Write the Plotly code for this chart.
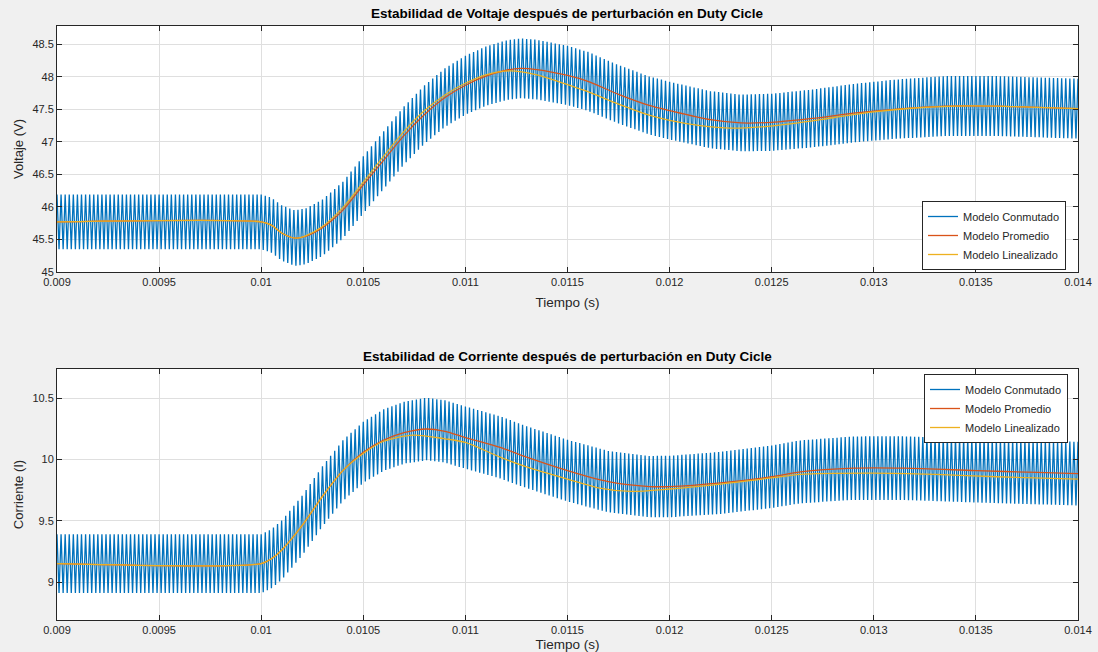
import numpy as np
import plotly.graph_objects as go

# ---------------- data ----------------
# time knots in ms
v_avg_t = [9.0, 10.0, 10.05, 10.1, 10.166, 10.22, 10.3, 10.4, 10.5, 10.6, 10.7, 10.8, 10.9, 11.0,
           11.1, 11.2, 11.27, 11.35, 11.5, 11.6, 11.75, 11.9, 12.0, 12.2, 12.35, 12.5, 12.7, 12.9,
           13.1, 13.35, 13.6, 13.8, 14.0]
v_avg = [45.77, 45.77, 45.72, 45.6, 45.52, 45.55, 45.68, 45.95, 46.34, 46.72, 47.1, 47.42, 47.68, 47.87,
         48.01, 48.1, 48.13, 48.11, 48.02, 47.93, 47.73, 47.56, 47.48, 47.34, 47.29, 47.3, 47.36, 47.44,
         47.5, 47.55, 47.55, 47.53, 47.51]

v_lin_t = [9.0, 10.0, 10.05, 10.1, 10.166, 10.22, 10.3, 10.4, 10.5, 10.6, 10.7, 10.8, 10.9, 11.0,
           11.1, 11.22, 11.35, 11.5, 11.6, 11.75, 11.9, 12.0, 12.15, 12.3, 12.45, 12.6, 12.8, 13.0,
           13.2, 13.4, 13.6, 13.8, 14.0]
v_lin = [45.77, 45.77, 45.72, 45.6, 45.52, 45.56, 45.7, 45.99, 46.38, 46.78, 47.16, 47.48, 47.72, 47.9,
         48.03, 48.09, 48.03, 47.88, 47.77, 47.58, 47.41, 47.33, 47.25, 47.21, 47.23, 47.28, 47.37, 47.46,
         47.52, 47.55, 47.55, 47.53, 47.51]

# switched-model ripple (half peak-to-peak) for voltage
v_rip_t = [9.0, 10.0, 10.5, 11.27, 12.35, 13.3, 14.0]
v_rip = [0.42, 0.42, 0.44, 0.46, 0.435, 0.46, 0.46]

i_avg_t = [9.0, 10.0, 10.05, 10.1, 10.2, 10.3, 10.4, 10.5, 10.6, 10.7, 10.81, 10.9, 11.0, 11.17,
           11.3, 11.5, 11.7, 11.9, 12.0, 12.25, 12.5, 12.64, 12.9, 13.15, 13.5, 13.8, 14.0]
i_avg = [9.15, 9.15, 9.19, 9.26, 9.46, 9.7, 9.91, 10.06, 10.16, 10.22, 10.25, 10.23, 10.18, 10.1,
         10.02, 9.91, 9.82, 9.78, 9.78, 9.81, 9.86, 9.9, 9.93, 9.93, 9.91, 9.895, 9.885]

i_lin_t = [9.0, 10.0, 10.05, 10.1, 10.2, 10.3, 10.4, 10.5, 10.6, 10.745, 10.9, 11.0, 11.17, 11.3,
           11.5, 11.65, 11.81, 12.0, 12.25, 12.5, 12.64, 12.99, 13.3, 13.6, 14.0]
i_lin = [9.15, 9.15, 9.19, 9.26, 9.46, 9.7, 9.91, 10.05, 10.15, 10.2, 10.17, 10.14, 10.02, 9.94,
         9.84, 9.77, 9.74, 9.76, 9.8, 9.85, 9.88, 9.89, 9.88, 9.86, 9.84]

i_rip_t = [9.0, 10.0, 10.8, 11.9, 13.0, 14.0]
i_rip = [0.24, 0.24, 0.255, 0.25, 0.26, 0.26]

f_sw_khz = 50.0  # switching frequency read from the ripple spacing

x_tickvals = [0.009, 0.0095, 0.01, 0.0105, 0.011, 0.0115, 0.012, 0.0125, 0.013, 0.0135, 0.014]
x_ticktext = ["0.009", "0.0095", "0.01", "0.0105", "0.011", "0.0115", "0.012", "0.0125", "0.013", "0.0135", "0.014"]
v_tickvals = [45, 45.5, 46, 46.5, 47, 47.5, 48, 48.5]
v_ticktext = ["45", "45.5", "46", "46.5", "47", "47.5", "48", "48.5"]
i_tickvals = [9, 9.5, 10, 10.5]
i_ticktext = ["9", "9.5", "10", "10.5"]

title_v = "Estabilidad de Voltaje después de perturbación en Duty Cicle"
title_i = "Estabilidad de Corriente después de perturbación en Duty Cicle"
names = ["Modelo Conmutado", "Modelo Promedio", "Modelo Linealizado"]
colors = ["#0072BD", "#D95319", "#EDB120"]


# ---------------- switched waveform (triangle ripple around the average) ----------------
def switched(avg_t, avg, rip_t, rip):
    half = 0.5 / f_sw_khz  # ms
    n = int(round((14.0 - 9.0) / half))
    t = 9.0 + np.arange(n + 1) * half
    c = np.interp(t, avg_t, avg)
    a = np.interp(t, rip_t, rip)
    s = np.where(np.arange(n + 1) % 2 == 0, 1.0, -1.0)
    return t / 1000.0, c + s * a


sw_v_t, sw_v = switched(v_avg_t, v_avg, v_rip_t, v_rip)
sw_i_t, sw_i = switched(i_avg_t, i_avg, i_rip_t, i_rip)

fig = go.Figure()

def add_set(xa, ya, leg, sw_t, sw_y, at, a, lt, l):
    fig.add_trace(go.Scatter(x=sw_t, y=sw_y, mode="lines", name=names[0],
                             line=dict(color=colors[0], width=1.3), xaxis=xa, yaxis=ya, legend=leg))
    fig.add_trace(go.Scatter(x=np.array(at) / 1000.0, y=a, mode="lines", name=names[1],
                             line=dict(color=colors[1], width=1.3, shape="spline", smoothing=0.8),
                             xaxis=xa, yaxis=ya, legend=leg))
    fig.add_trace(go.Scatter(x=np.array(lt) / 1000.0, y=l, mode="lines", name=names[2],
                             line=dict(color=colors[2], width=1.3, shape="spline", smoothing=0.8),
                             xaxis=xa, yaxis=ya, legend=leg))

add_set("x", "y", "legend", sw_v_t, sw_v, v_avg_t, v_avg, v_lin_t, v_lin)
add_set("x2", "y2", "legend2", sw_i_t, sw_i, i_avg_t, i_avg, i_lin_t, i_lin)

W, H = 1098, 652
font = "Liberation Sans, Arial, Helvetica, sans-serif"
tick_col = "#262626"
grid_col = "#dfdfdf"

def xaxis_cfg(dom_y_anchor, standoff):
    return dict(domain=[57 / W, 1078 / W], range=[0.009, 0.014], tickvals=x_tickvals, ticktext=x_ticktext,
                ticks="inside", ticklen=5, tickcolor=tick_col, showline=True, linecolor=tick_col, linewidth=1,
                mirror="ticks", showgrid=True, gridcolor=grid_col, gridwidth=1, zeroline=False, automargin=False,
                tickfont=dict(family=font, size=11, color=tick_col), anchor=dom_y_anchor,
                title=dict(text="Tiempo (s)", font=dict(family=font, size=13.5, color=tick_col), standoff=standoff))

def yaxis_cfg(dom, rng, tv, tt, title, anchor):
    return dict(domain=dom, range=rng, tickvals=tv, ticktext=tt,
                ticks="inside", ticklen=5, tickcolor=tick_col, showline=True, linecolor=tick_col, linewidth=1,
                mirror="ticks", showgrid=True, gridcolor=grid_col, gridwidth=1, zeroline=False, automargin=False,
                tickfont=dict(family=font, size=11, color=tick_col), anchor=anchor,
                title=dict(text=title, font=dict(family=font, size=13, color=tick_col), standoff=5))

legend_common = dict(bgcolor="white", bordercolor=tick_col, borderwidth=1,
                     font=dict(family=font, size=11, color=tick_col), xanchor="left", yanchor="top",
                     tracegroupgap=0, itemwidth=30)

fig.update_layout(
    width=W, height=H, margin=dict(l=0, r=0, t=0, b=0, autoexpand=False),
    paper_bgcolor="#f0f0f0", plot_bgcolor="white",
    xaxis=xaxis_cfg("y", 10),
    yaxis=yaxis_cfg([1 - 272 / H, 1 - 26 / H], [45, 48.78], v_tickvals, v_ticktext, "Voltaje (V)", "x"),
    xaxis2=xaxis_cfg("y2", 5),
    yaxis2=yaxis_cfg([1 - 620 / H, 1 - 369 / H], [8.69, 10.74], i_tickvals, i_ticktext, "Corriente (I)", "x2"),
    legend=dict(x=922 / W, y=1 - 201 / H, **legend_common),
    legend2=dict(x=924 / W, y=1 - 374 / H, **legend_common),
    annotations=[
        dict(text="<b>" + title_v + "</b>", x=567.5 / W, y=1 - 14 / H, xref="paper", yref="paper",
             showarrow=False, xanchor="center", yanchor="middle", font=dict(family=font, size=13.5, color="black")),
        dict(text="<b>" + title_i + "</b>", x=567.5 / W, y=1 - 356 / H, xref="paper", yref="paper",
             showarrow=False, xanchor="center", yanchor="middle", font=dict(family=font, size=13.5, color="black")),
    ],
)

fig.write_html("out.html", config={"displayModeBar": False},
               post_script="document.body.style.margin='0';document.body.style.overflow='hidden';")
